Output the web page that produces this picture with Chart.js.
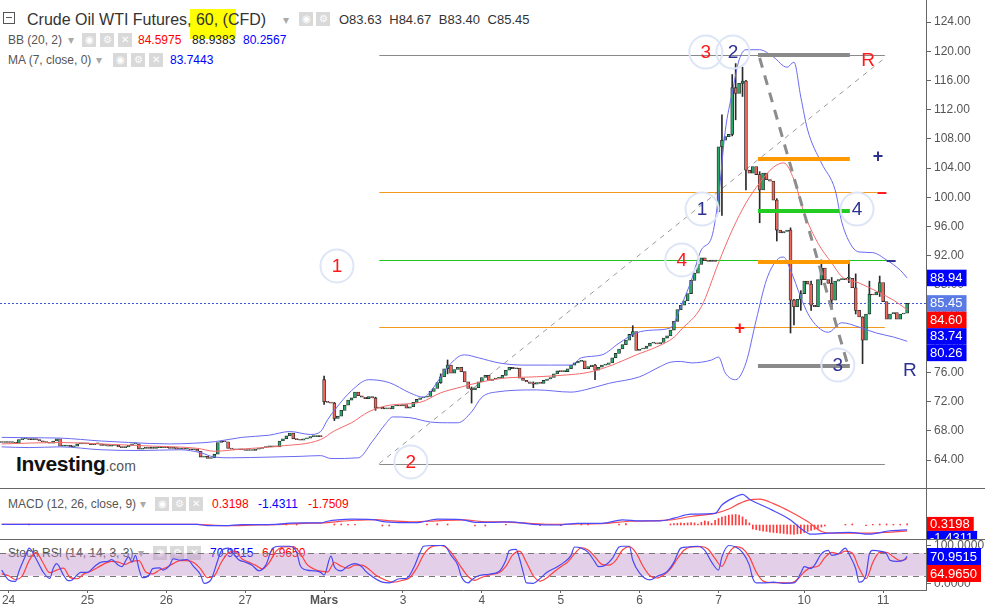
<!DOCTYPE html>
<html>
<head>
<meta charset="utf-8">
<script src="https://cdn.jsdelivr.net/npm/chart.js@4.4.0/dist/chart.umd.min.js"></script>
<style>
  html, body { margin: 0; padding: 0; background: #fff; }
  body { width: 985px; height: 606px; position: relative; overflow: hidden; font-family: "Liberation Sans", Arial, sans-serif; }
  canvas { position: absolute; left: 0; z-index: 2; }
  #main { top: 0; }
  #macd { top: 489px; }
  #stoch { top: 540px; }
  .t { position: absolute; white-space: nowrap; font-size: 12px; line-height: 14px; color: #555; z-index: 1; }
  .ico { position: absolute; width: 14px; height: 14px; background: #d9d9d9; color: #fff; font-size: 10px; line-height: 14px; text-align: center; z-index: 1; }
  .sep { position: absolute; left: 0; width: 985px; height: 1px; background: #666; z-index: 3; }
</style>
</head>
<body>
<div style="position:absolute;left:190px;top:9px;width:46px;height:30px;background:#ffff00;z-index:0"></div>
<div style="position:absolute;left:3px;top:12px;width:10px;height:10px;border:1px solid #555;z-index:1"><div style="margin:4px 2px 0;height:1px;background:#555"></div></div>
<span class="t" style="left:27px;top:10px;font-size:16px;line-height:20px;color:#333">Crude Oil WTI Futures, 60, (CFD)</span>
<span class="t" style="left:283px;top:13px;color:#aaa">▾</span>
<span class="ico" style="left:299px;top:12px">◉</span><span class="ico" style="left:316px;top:12px">⚙</span>
<span class="t" style="left:339px;top:12px;font-size:13px;line-height:16px;color:#333;word-spacing:4px">O83.63 H84.67 B83.40 C85.45</span>

<span class="t" style="left:8px;top:33px">BB (20, 2)</span>
<span class="t" style="left:68px;top:33px;color:#aaa">▾</span>
<span class="ico" style="left:82px;top:33px">◉</span><span class="ico" style="left:100px;top:33px">⚙</span><span class="ico" style="left:118px;top:33px">✕</span>
<span class="t" style="left:138px;top:33px;color:#f00">84.5975</span>
<span class="t" style="left:192px;top:33px;color:#222">88.9383</span>
<span class="t" style="left:243px;top:33px;color:#00f">80.2567</span>

<span class="t" style="left:8px;top:53px">MA (7, close, 0)</span>
<span class="t" style="left:96px;top:53px;color:#aaa">▾</span>
<span class="ico" style="left:113px;top:53px">◉</span><span class="ico" style="left:131px;top:53px">⚙</span><span class="ico" style="left:149px;top:53px">✕</span>
<span class="t" style="left:170px;top:53px;color:#00f">83.7443</span>

<span class="t" style="left:16px;top:451px;font-size:21px;line-height:26px;font-weight:bold;color:#111;letter-spacing:-0.3px">Investing<span style="font-size:14px;font-weight:normal;color:#555;letter-spacing:0">.com</span></span>

<span class="t" style="left:8px;top:497px">MACD (12, 26, close, 9)</span>
<span class="t" style="left:140px;top:497px;color:#aaa">▾</span>
<span class="ico" style="left:155px;top:497px">◉</span><span class="ico" style="left:172px;top:497px">⚙</span><span class="ico" style="left:189px;top:497px">✕</span>
<span class="t" style="left:212px;top:497px;color:#f00">0.3198</span>
<span class="t" style="left:258px;top:497px;color:#00f">-1.4311</span>
<span class="t" style="left:308px;top:497px;color:#f00">-1.7509</span>

<span class="t" style="left:8px;top:546px">Stoch RSI (14, 14, 3, 3)</span>
<span class="t" style="left:138px;top:546px;color:#aaa">▾</span>
<span class="ico" style="left:153px;top:546px">◉</span><span class="ico" style="left:170px;top:546px">⚙</span><span class="ico" style="left:187px;top:546px">✕</span>
<span class="t" style="left:210px;top:546px;color:#00f">70.9515</span>
<span class="t" style="left:262px;top:546px;color:#f00">64.9650</span>

<canvas id="main" width="985" height="488"></canvas>
<canvas id="macd" width="985" height="50"></canvas>
<canvas id="stoch" width="985" height="66"></canvas>
<div class="sep" style="top:488px"></div>
<div class="sep" style="top:539px"></div>

<script>
// Day labels under the last panel and the candle slot each one sits on
const dayLabels = ["24", "25", "26", "27", "Mars", "3", "4", "5", "6", "7", "10", "11"];
const daySlots = [2, 25, 48, 71, 94, 117, 140, 163, 186, 209, 234, 257];
const priceTicks = [64, 68, 72, 76, 80, 84, 88, 92, 96, 100, 104, 108, 112, 116, 120, 124];

// Hourly closes, one per slot
const firstOpen = 66.5;
const gapOpens = { 94: 75.0, 209: 98.0 };
const closes = [
  66.4, 66.5, 66.4, 66.4, 66.3, 66.8, 66.9, 66.9, 66.8, 66.9,
  66.8, 66.6, 66.5, 66.4, 66.3, 66.6, 66.9, 65.9, 65.9, 66.0,
  65.8, 65.9, 66.2, 66.2, 66.2, 66.3, 66.1, 66.2, 66.2, 66.0,
  66.1, 65.9, 66.0, 66.0, 65.8, 65.7, 65.8, 66.0, 66.2, 66.2,
  65.5, 65.6, 65.7, 65.6, 65.6, 65.7, 65.7, 65.8, 65.7, 65.6,
  65.7, 65.5, 65.6, 65.5, 65.5, 65.4, 65.5, 65.2, 64.4, 64.5,
  64.2, 64.3, 64.8, 66.4, 66.6, 66.5, 65.6, 65.5, 65.4, 65.5,
  65.4, 65.3, 65.4, 65.3, 65.5, 65.6, 65.7, 65.8, 65.8, 65.9,
  65.8, 66.6, 66.9, 67.3, 67.7, 66.9, 66.8, 66.7, 66.9, 67.0,
  67.2, 67.2, 67.3, 67.2, 72.0, 71.9, 71.8, 69.7, 70.0, 70.8,
  71.5, 72.2, 72.5, 73.3, 72.8, 72.6, 72.4, 72.7, 72.5, 71.1,
  71.2, 71.0, 71.1, 71.0, 71.4, 71.5, 71.4, 71.6, 71.1, 71.3,
  71.9, 72.3, 72.5, 72.6, 72.7, 73.4, 73.8, 74.6, 75.4, 76.5,
  77.0, 75.9, 76.4, 76.7, 76.1, 74.7, 73.8, 73.6, 73.9, 74.7,
  75.3, 75.6, 74.9, 75.1, 75.2, 75.2, 75.6, 76.3, 76.7, 76.5,
  76.6, 75.2, 74.9, 74.7, 74.5, 74.4, 74.6, 74.5, 74.9, 75.1,
  75.3, 75.8, 76.2, 76.1, 76.1, 76.5, 77.0, 77.3, 77.5, 77.6,
  76.5, 76.8, 77.0, 76.3, 76.7, 77.0, 77.1, 77.3, 78.0, 78.6,
  79.2, 79.8, 80.4, 81.2, 81.6, 79.0, 79.2, 79.3, 79.6, 80.0,
  80.0, 79.9, 80.1, 80.7, 81.0, 81.8, 83.0, 84.6, 85.2, 85.8,
  86.8, 88.6, 89.6, 90.8, 91.7, 91.3, 91.2, 91.4, 91.2, 106.9,
  107.8, 108.3, 108.6, 115.0, 114.2, 115.6, 115.9, 103.7, 103.3, 104.2,
  103.1, 101.0, 103.3, 102.4, 102.2, 99.6, 95.5, 95.1, 95.3, 95.5,
  85.9, 85.0, 86.0, 86.8, 88.5, 88.1, 85.2, 85.0, 88.7, 90.3,
  88.7, 88.2, 85.9, 88.5, 88.7, 88.7, 88.9, 88.9, 87.6, 84.5,
  83.6, 80.4, 84.0, 86.7, 86.6, 87.0, 88.3, 85.7, 83.3, 84.0,
  84.2, 83.3, 84.0, 84.1, 85.45
];
// Visible wicks: [slot, low, high]
const wicks = [
  [94, 71.6, 75.5], [97, 69.4, 71.9], [109, 70.8, 72.6], [128, 74.5, 75.8], [130, 75.8, 77.7],
  [137, 71.8, 74.0], [155, 73.9, 74.7], [173, 75.0, 77.1], [184, 80.9, 82.4], [210, 97.5, 111.3],
  [213, 108.4, 116.8], [214, 110.6, 118.3], [216, 113.8, 117.8], [217, 101.0, 116.0], [221, 96.5, 103.5],
  [226, 94.0, 99.8], [230, 81.4, 95.8], [231, 82.5, 86.0], [233, 84.5, 87.2], [236, 84.5, 88.5],
  [239, 88.0, 91.4], [242, 84.8, 89.0], [247, 88.3, 91.2], [249, 84.0, 89.5], [251, 77.2, 82.6],
  [253, 84.0, 88.5], [256, 86.4, 89.2]
];

// Bollinger bands [slot, value]
const bbUpper = [
  [0, 67.1], [8, 67.05], [17, 67.0], [29, 66.6], [37, 66.4], [49, 66.2], [56, 66.3], [62, 66.5], [70, 67.1],
  [78, 67.4], [84, 67.9], [90, 67.5], [93, 67.9], [95, 69.5], [97, 70.8], [102, 73.5], [107, 75.0], [113, 74.6],
  [119, 73.2], [123, 72.6], [126, 74.0], [129, 76.1], [133, 78.1], [135, 78.4], [139, 78.0], [145, 77.3],
  [152, 77.0], [160, 77.0], [166, 77.0], [169, 78.0], [175, 78.4], [180, 80.0], [185, 81.4], [190, 81.8],
  [195, 82.1], [198, 85.0], [201, 88.5], [204, 92.8], [207, 94.5], [209, 100.0], [211, 109.2], [213, 114.3],
  [215, 118.8], [217, 120.2], [221, 120.2], [225, 119.2], [229, 117.8], [231, 118.5], [233, 113.7],
  [235, 109.2], [239, 104.7], [243, 101.0], [245, 96.5], [248, 93.2], [250, 92.5], [254, 92.4], [258, 91.4],
  [262, 90.0], [264, 88.94]
];
const bbBasis = [
  [0, 66.2], [17, 66.4], [29, 66.2], [44, 65.9], [57, 65.6], [62, 65.2], [70, 65.5], [81, 65.9], [93, 66.8],
  [97, 68.0], [102, 69.1], [107, 70.6], [113, 71.5], [122, 71.9], [128, 73.2], [134, 74.0], [140, 74.7],
  [146, 75.2], [156, 75.4], [166, 75.7], [171, 76.0], [178, 77.0], [185, 78.4], [191, 79.5], [196, 80.8],
  [198, 81.8], [204, 85.0], [209, 91.0], [213, 95.5], [217, 99.2], [221, 101.95], [225, 104.1], [228, 104.7],
  [231, 102.4], [234, 97.8], [238, 93.7], [242, 91.0], [245, 89.1], [250, 88.25], [256, 86.9], [260, 85.9],
  [264, 84.6]
];
const bbLower = [
  [0, 65.8], [8, 65.7], [17, 65.8], [29, 65.4], [40, 65.3], [52, 65.4], [58, 65.0], [62, 64.4], [67, 64.3],
  [78, 64.4], [87, 64.5], [93, 64.6], [96, 64.2], [104, 64.3], [108, 66.5], [112, 69.0], [114, 69.9],
  [119, 69.8], [125, 69.2], [130, 69.1], [133, 69.1], [137, 70.6], [140, 72.6], [144, 73.3], [156, 73.6],
  [166, 73.3], [170, 73.6], [177, 74.5], [186, 75.4], [192, 76.8], [195, 77.4], [198, 77.5], [201, 77.3],
  [204, 77.4], [207, 77.7], [209, 78.1], [211, 75.9], [214, 75.0], [217, 77.3], [220, 83.2], [223, 88.7],
  [226, 91.4], [228, 91.8], [230, 90.0], [233, 86.3], [235, 84.1], [238, 82.2], [241, 81.5], [245, 82.8],
  [250, 82.2], [255, 81.4], [260, 80.85], [264, 80.26]
];

// MACD (12, 26, 9) [slot, value]
const macdLine = [
  [0, 0.2], [30, 0.2], [57, 0.2], [60, -0.2], [65, -0.2], [70, 0.1], [80, 0.2], [83, 0.5], [88, 0.6], [93, 0.6],
  [95, 1.1], [98, 1.5], [102, 1.7], [108, 1.6], [112, 0.9], [118, 0.7], [122, 0.8], [127, 1.7], [134, 1.6],
  [138, 0.8], [142, 0.8], [148, 0.9], [155, 0.2], [162, 0.0], [168, 0.5], [175, 0.5], [181, 1.5], [186, 1.2],
  [192, 1.2], [196, 2.0], [201, 3.2], [208, 3.4], [210, 5.9], [214, 8.3], [216, 9.0], [218, 7.6], [224, 4.7],
  [230, 1.5], [233, -1.0], [236, -2.7], [241, -2.4], [247, -2.2], [253, -2.7], [259, -1.7], [264, -1.43]
];
const macdSignal = [
  [0, 0.2], [30, 0.2], [57, 0.2], [62, -0.1], [68, -0.2], [75, 0.0], [82, 0.2], [88, 0.5], [94, 0.6], [98, 1.0],
  [103, 1.4], [109, 1.6], [114, 1.2], [120, 0.9], [128, 1.3], [135, 1.5], [140, 1.0], [146, 0.9], [152, 0.6],
  [160, 0.2], [168, 0.3], [176, 0.5], [183, 1.1], [189, 1.2], [195, 1.5], [201, 2.5], [208, 3.4], [212, 4.7],
  [215, 6.3], [218, 7.4], [221, 7.6], [225, 6.3], [230, 3.9], [235, 1.0], [239, -1.9], [242, -2.4], [247, -2.4],
  [253, -2.4], [259, -2.1], [264, -1.75]
];
const macdHist = [
  [8, 0.3], [83, 0.2], [86, 0.2], [97, 0.3], [99, 0.3], [101, 0.2], [103, 0.2], [111, -0.3], [113, -0.3],
  [124, 0.3], [127, 0.4], [130, 0.3], [138, -0.3], [141, -0.3], [147, 0.2], [157, -0.2], [163, -0.2],
  [169, 0.3], [171, 0.3], [180, 0.3], [182, 0.4],
  [195, 0.3], [196, 0.4], [197, 0.5], [198, 0.6], [199, 0.5], [200, 0.6], [201, 0.7], [202, 0.6], [203, 0.3],
  [204, 0.8], [205, 1.2], [206, 1.0], [207, 0.5], [208, 1.4], [209, 1.9], [210, 2.3], [211, 2.6], [212, 2.9],
  [213, 3.0], [214, 3.1], [215, 2.9], [216, 2.4], [217, 1.6], [218, 0.6], [219, -1.2], [220, -1.4], [221, -1.6],
  [222, -1.8], [223, -1.9], [224, -2.1], [225, -2.2], [226, -2.3], [227, -2.4], [228, -2.5], [229, -2.6],
  [230, -2.7], [231, -2.8], [232, -2.6], [233, -2.5], [234, -2.2], [235, -1.9], [236, -1.6], [237, -1.3],
  [238, -1.0], [239, -0.6], [240, -0.3], [246, 0.2], [248, 0.3], [252, -0.2], [254, 0.2], [256, 0.3],
  [258, 0.3], [260, 0.2], [262, 0.2], [264, 0.32]
];

// Stoch RSI (14, 14, 3, 3) [slot, value]
const stochK = [
  [0, 35], [2, 9], [4, 5], [5, 31], [7, 74], [8, 93], [10, 65], [12, 31], [14, 13], [15, 39], [16, 52], [18, 22],
  [19, 9], [20, 7], [22, 22], [23, 29], [25, 29], [27, 44], [29, 56], [31, 58], [32, 63], [34, 48], [35, 44],
  [37, 70], [38, 56], [39, 74], [40, 39], [41, 15], [43, 22], [44, 39], [46, 41], [47, 35], [49, 48], [50, 65],
  [52, 61], [54, 63], [56, 44], [58, 22], [59, 0], [61, 9], [63, 61], [64, 85], [66, 93], [68, 74], [69, 63],
  [71, 56], [73, 48], [75, 33], [77, 48], [79, 93], [81, 98], [84, 98], [86, 82], [87, 48], [89, 35], [91, 33],
  [93, 29], [94, 22], [96, 72], [97, 44], [99, 33], [101, 46], [103, 52], [105, 44], [106, 33], [108, 18],
  [111, 3], [113, 1], [116, 12], [118, 13], [120, 39], [122, 82], [123, 98], [126, 100], [129, 100], [131, 74],
  [133, 48], [134, 18], [136, 1], [137, 9], [139, 20], [142, 24], [145, 31], [147, 61], [148, 87], [150, 90],
  [151, 65], [152, 31], [153, 1], [155, 0], [157, 13], [159, 29], [162, 44], [164, 56], [166, 74], [167, 96],
  [169, 93], [171, 82], [173, 56], [174, 44], [176, 48], [178, 65], [180, 96], [181, 98], [183, 98], [184, 61],
  [186, 27], [189, 9], [191, 18], [194, 31], [196, 56], [198, 93], [200, 96], [203, 98], [205, 87], [207, 56],
  [209, 35], [210, 70], [212, 100], [214, 96], [216, 82], [218, 48], [219, 13], [220, 1], [222, 1], [225, 3],
  [228, 0], [231, 1], [233, 27], [234, 44], [236, 39], [237, 48], [239, 78], [241, 87], [242, 74], [244, 78],
  [246, 93], [247, 78], [249, 39], [250, 3], [252, 22], [253, 78], [254, 87], [256, 85], [258, 78], [259, 61],
  [261, 58], [263, 61], [264, 70.95]
];
const stochD = [
  [0, 25], [2, 20], [4, 10], [6, 20], [8, 60], [10, 82], [12, 55], [14, 28], [16, 35], [18, 40], [20, 15],
  [22, 12], [24, 25], [26, 32], [28, 42], [30, 52], [32, 58], [34, 56], [36, 50], [38, 58], [40, 60], [42, 30],
  [44, 25], [46, 35], [48, 42], [50, 52], [52, 60], [54, 60], [56, 55], [58, 38], [60, 15], [62, 20], [64, 55],
  [66, 80], [68, 85], [70, 65], [72, 56], [74, 48], [76, 38], [78, 55], [80, 85], [82, 96], [85, 97], [87, 80],
  [89, 50], [91, 38], [93, 32], [95, 30], [97, 55], [99, 45], [101, 40], [103, 48], [105, 48], [107, 38],
  [109, 22], [112, 8], [114, 3], [117, 8], [119, 15], [121, 40], [123, 75], [125, 95], [128, 100], [130, 92],
  [132, 70], [134, 42], [136, 18], [138, 8], [140, 16], [143, 24], [145, 28], [147, 45], [149, 75], [151, 85],
  [153, 55], [155, 20], [157, 6], [159, 15], [161, 30], [163, 44], [165, 56], [167, 78], [169, 94], [171, 88],
  [173, 70], [175, 50], [177, 48], [179, 60], [181, 88], [183, 97], [185, 80], [187, 45], [189, 20], [191, 14],
  [193, 22], [195, 38], [197, 65], [199, 88], [201, 96], [204, 97], [206, 90], [208, 65], [210, 45], [212, 80],
  [214, 97], [216, 92], [218, 70], [220, 30], [222, 6], [224, 2], [227, 2], [230, 1], [232, 10], [234, 30],
  [236, 42], [238, 45], [240, 68], [242, 82], [244, 78], [246, 85], [248, 80], [250, 40], [252, 12], [254, 55],
  [256, 82], [258, 82], [260, 70], [262, 60], [264, 64.97]
];

// Last values shown as tags on the right axes
const priceTags = [88.94, 85.45, 84.60, 83.74, 80.26];
const priceTagColors = ["#0000ff", "#5a7be6", "#ff0000", "#0000ff", "#0000ff"];
const macdTags = [0.3198, -1.4311];
const stochTags = [70.9515, 64.9650];
const lastPrice = 85.45;

// Drawing on the price panel, in [slot, price] units
const levelStart = 110.1;
const levels = [119.48, 100.78, 91.4, 82.2, 63.52];
const levelEnds = [257.5, 255.2, 258.1, 257.5, 257.5];
const zoneStart = 220.5, zoneEnd = 247.3;
const zones = [119.48, 105.23, 98.1, 91.12, 76.88];
const circled = [
  [205.3, 119.89, "3", "red"], [213.2, 119.89, "2", "navy"], [204.2, 98.38, "1", "navy"],
  [249.4, 98.38, "4", "navy"], [198.3, 91.4, "4", "red"], [97.75, 90.58, "1", "red"],
  [119.3, 63.73, "2", "red"], [243.8, 77.01, "3", "navy"]
];
const marks = [
  [252.6, 118.8, "R", "red"], [264.8, 76.33, "R", "navy"], [255.5, 105.64, "+", "navy"],
  [256.6, 100.58, "−", "red"], [259.3, 91.26, "−", "navy"], [215.2, 82.08, "+", "red"]
];

const GREEN = "#26a869", RED = "#f0665a", EDGE = "#2a2a2a";
const BAND_BLUE = "#6a6af2", BAND_RED = "#f46a6a";
const INK = { red: "#ff1a1a", navy: "#2e3192" };
const FONT = '"Liberation Sans", Arial, sans-serif';

Chart.defaults.font.family = FONT;
Chart.defaults.color = "#555";

const pts = arr => arr.map(([x, y]) => ({ x, y }));
const opens = closes.map((c, i) => gapOpens[i] ?? (i === 0 ? firstOpen : closes[i - 1]));
const bodies = closes.map((c, i) => ({ x: i, y: [opens[i], c] }));
const bodyColors = closes.map((c, i) => (c >= opens[i] ? GREEN : RED));
const wickBars = wicks.map(([i, lo, hi]) => ({
  x: i,
  y: [Math.min(lo, opens[i], closes[i]), Math.max(hi, opens[i], closes[i])]
}));

const xScale = { type: "linear", min: -0.5, max: 269.5, offset: false, display: false };
const fixWidth = s => { s.width = 59; s.paddingTop = 0; s.paddingBottom = 0; };
const lineSet = (data, color, width) => ({
  type: "line", data: pts(data), borderColor: color, borderWidth: width, pointRadius: 0,
  cubicInterpolationMode: "monotone", fill: false, order: 0
});
const baseOptions = {
  responsive: false, animation: false, events: [], devicePixelRatio: 1,
  layout: { padding: 0 },
  plugins: { legend: { display: false }, tooltip: { enabled: false } }
};

function drawTags(chart, values, colors, decimals, boxH) {
  const { ctx, scales: { y }, chartArea } = chart;
  ctx.save();
  ctx.font = "13px " + FONT;
  ctx.textBaseline = "middle";
  let prev = -Infinity;
  values.forEach((v, i) => {
    const cy = Math.max(y.getPixelForValue(v), prev + boxH);
    prev = cy;
    const txt = v.toFixed(decimals);
    const w = ctx.measureText(txt).width + 7;
    ctx.fillStyle = colors[i];
    ctx.fillRect(chartArea.right + 1, cy - boxH / 2, w, boxH);
    ctx.fillStyle = "#fff";
    ctx.fillText(txt, chartArea.right + 4, cy + 0.5);
  });
  ctx.restore();
}

const priceDrawings = {
  id: "priceDrawings",
  beforeDatasetsDraw(chart) {
    const { ctx, scales: { x, y }, chartArea } = chart;
    const levelColors = ["#8a8a8a", "#f39a1e", "#1ec31e", "#f39a1e", "#8a8a8a"];
    ctx.save();
    ctx.lineWidth = 1;
    levels.forEach((v, i) => {
      const py = Math.round(y.getPixelForValue(v)) + 0.5;
      ctx.strokeStyle = levelColors[i];
      ctx.beginPath();
      ctx.moveTo(x.getPixelForValue(levelStart), py);
      ctx.lineTo(x.getPixelForValue(levelEnds[i]), py);
      ctx.stroke();
    });
    ctx.strokeStyle = "#9a9a9a";
    ctx.setLineDash([5, 5]);
    ctx.beginPath();
    ctx.moveTo(x.getPixelForValue(levelStart), y.getPixelForValue(63.52));
    ctx.lineTo(x.getPixelForValue(257.5), y.getPixelForValue(119.07));
    ctx.stroke();
    ctx.strokeStyle = "#3a5bd9";
    ctx.setLineDash([2, 2]);
    const lp = Math.round(y.getPixelForValue(lastPrice)) + 0.5;
    ctx.beginPath();
    ctx.moveTo(chartArea.left, lp);
    ctx.lineTo(chartArea.right, lp);
    ctx.stroke();
    ctx.restore();
  },
  afterDatasetsDraw(chart) {
    const { ctx, scales: { x, y } } = chart;
    const zoneColors = ["#8a8a8a", "#ff9900", "#22cc22", "#ff9900", "#8a8a8a"];
    ctx.save();
    ctx.lineWidth = 4;
    zones.forEach((v, i) => {
      const py = y.getPixelForValue(v);
      ctx.strokeStyle = zoneColors[i];
      ctx.beginPath();
      ctx.moveTo(x.getPixelForValue(zoneStart), py);
      ctx.lineTo(x.getPixelForValue(zoneEnd), py);
      ctx.stroke();
    });
    ctx.lineWidth = 3;
    ctx.strokeStyle = "#8c8c8c";
    ctx.setLineDash([10, 8]);
    ctx.beginPath();
    ctx.moveTo(x.getPixelForValue(221), y.getPixelForValue(119.07));
    ctx.lineTo(x.getPixelForValue(246.7), y.getPixelForValue(77.0));
    ctx.stroke();
    ctx.setLineDash([]);

    ctx.textAlign = "center";
    ctx.textBaseline = "middle";
    ctx.font = "19px " + FONT;
    circled.forEach(([s, v, txt, ink]) => {
      const cx = x.getPixelForValue(s), cy = y.getPixelForValue(v);
      ctx.lineWidth = 2;
      ctx.strokeStyle = "#dde5f6";
      ctx.beginPath();
      ctx.arc(cx, cy, 16.5, 0, Math.PI * 2);
      ctx.stroke();
      ctx.fillStyle = INK[ink];
      ctx.fillText(txt, cx, cy + 1);
    });
    marks.forEach(([s, v, txt, ink]) => {
      ctx.font = (txt === "R" ? "19px " : "bold 18px ") + FONT;
      ctx.fillStyle = INK[ink];
      ctx.fillText(txt, x.getPixelForValue(s), y.getPixelForValue(v) + 1);
    });
    ctx.restore();
  },
  afterDraw(chart) {
    drawTags(chart, priceTags, priceTagColors, 2, 16.5);
  }
};

new Chart(document.getElementById("main"), {
  type: "bar",
  data: {
    datasets: [
      lineSet(bbUpper, BAND_BLUE, 1),
      lineSet(bbBasis, BAND_RED, 1),
      lineSet(bbLower, BAND_BLUE, 1),
      { data: bodies, backgroundColor: bodyColors, borderColor: EDGE, borderWidth: 0.8, borderSkipped: false,
        barThickness: 3, minBarLength: 1, grouped: false, order: 1 },
      { data: wickBars, backgroundColor: EDGE, barThickness: 1, grouped: false, order: 2 }
    ]
  },
  options: {
    ...baseOptions,
    scales: {
      x: xScale,
      y: {
        position: "right", min: 60.1644, max: 127.0137,
        afterBuildTicks: s => { s.ticks = priceTicks.map(v => ({ value: v })); },
        afterFit: fixWidth,
        ticks: { callback: v => v.toFixed(2), color: "#555", font: { size: 12 }, padding: 3 },
        grid: { drawOnChartArea: false, tickLength: 5, color: "#666" },
        border: { color: "#666" }
      }
    }
  },
  plugins: [priceDrawings]
});

new Chart(document.getElementById("macd"), {
  type: "bar",
  data: {
    datasets: [
      lineSet(macdLine, "#4a4aff", 1.2),
      lineSet(macdSignal, "#ff4848", 1.2),
      { data: pts(macdHist), backgroundColor: "#ff3b3b", barThickness: 1, grouped: false, order: 1 }
    ]
  },
  options: {
    ...baseOptions,
    scales: {
      x: xScale,
      y: {
        position: "right", min: -4.12, max: 10.59,
        afterFit: fixWidth,
        ticks: { display: false },
        grid: { display: false },
        border: { color: "#666" }
      }
    }
  },
  plugins: [{ id: "macdTags", afterDraw: c => drawTags(c, macdTags, ["#ff0000", "#0000ff"], 4, 14) }]
});

new Chart(document.getElementById("stoch"), {
  type: "line",
  data: {
    datasets: [
      lineSet(stochK, "#4848f4", 1.2),
      lineSet(stochD, "#ff4040", 1.2)
    ]
  },
  options: {
    ...baseOptions,
    scales: {
      x: {
        type: "linear", min: -0.5, max: 269.5, offset: false,
        afterBuildTicks: s => { s.ticks = daySlots.map(v => ({ value: v })); },
        afterFit: s => { s.height = 16; s.paddingLeft = 0; s.paddingRight = 0; },
        ticks: {
          autoSkip: false, maxRotation: 0, padding: 0, color: "#555",
          callback: v => dayLabels[daySlots.indexOf(v)],
          font: ctx => ({ size: 12, weight: ctx.tick && ctx.tick.label === "Mars" ? "bold" : "normal" })
        },
        grid: { drawOnChartArea: false, tickLength: 3, color: "#666" },
        border: { color: "#666" }
      },
      y: {
        position: "right", min: -17.72, max: 114.55,
        afterBuildTicks: s => { s.ticks = [{ value: 0 }, { value: 100 }]; },
        afterFit: fixWidth,
        ticks: { callback: v => v.toFixed(4), color: "#555", font: { size: 12 }, padding: 3 },
        grid: { drawOnChartArea: false, tickLength: 5, color: "#666" },
        border: { color: "#666" }
      }
    }
  },
  plugins: [{
    id: "stochBand",
    beforeDatasetsDraw(chart) {
      const { ctx, scales: { y }, chartArea } = chart;
      const top = y.getPixelForValue(80), bottom = y.getPixelForValue(20);
      ctx.save();
      ctx.fillStyle = "rgba(190, 140, 200, 0.42)";
      ctx.fillRect(chartArea.left, top, chartArea.right - chartArea.left, bottom - top);
      ctx.strokeStyle = "#777";
      ctx.setLineDash([6, 5]);
      [top, bottom].forEach(py => {
        ctx.beginPath();
        ctx.moveTo(chartArea.left, Math.round(py) + 0.5);
        ctx.lineTo(chartArea.right, Math.round(py) + 0.5);
        ctx.stroke();
      });
      ctx.restore();
    },
    afterDraw: c => drawTags(c, stochTags, ["#0000ff", "#ff0000"], 4, 17)
  }]
});
</script>
</body>
</html>
